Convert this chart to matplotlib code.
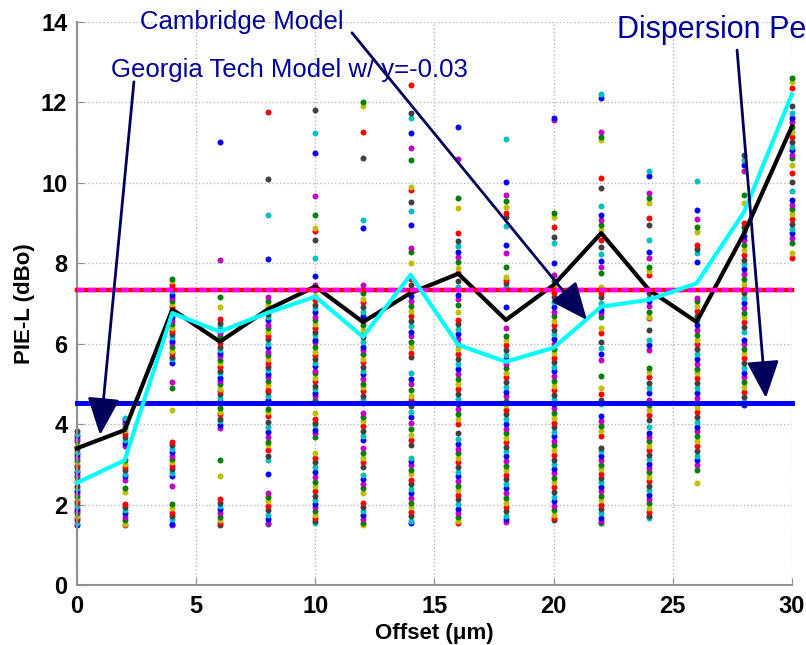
import matplotlib
matplotlib.use('Agg')
import matplotlib.pyplot as plt

plt.rcParams['font.family'] = ['Liberation Sans', 'DejaVu Sans']

offsets = [0, 2, 4, 6, 8, 10, 12, 14, 16, 18, 20, 22, 24, 26, 28, 30]

# measured PIE-L samples, one list per offset
pie_l = [
    [1.50, 1.53, 1.61, 1.66, 1.72, 1.79, 1.85, 1.90, 1.97, 2.03, 2.08, 2.16, 2.21, 2.29, 2.34,
     2.41, 2.47, 2.55, 2.60, 2.68, 2.73, 2.80, 2.86, 2.93, 2.99, 3.06, 3.12, 3.18, 3.25, 3.31,
     3.38, 3.44, 3.51, 3.57, 3.63, 3.70, 3.76, 3.82],
    [1.50, 1.51, 1.62, 1.70, 1.78, 1.86, 1.94, 2.01, 2.31, 2.40, 2.62, 2.70, 2.77, 2.85, 2.93,
     3.01, 3.10, 3.45, 3.53, 3.60, 3.68, 3.75, 3.86, 3.93, 4.02, 4.10, 4.16],
    [1.50, 1.52, 1.63, 1.72, 1.80, 1.91, 2.01, 2.45, 2.70, 2.79, 2.88, 2.97, 3.05, 3.13, 3.21,
     3.30, 3.38, 3.47, 3.55, 4.35, 4.90, 5.05, 5.52, 5.61, 5.67, 5.77, 5.83, 5.92, 6.01, 6.07,
     6.16, 6.25, 6.31, 6.40, 6.49, 6.56, 6.66, 6.74, 6.83, 6.90, 6.98, 7.07, 7.13, 7.22, 7.31,
     7.38, 7.47, 7.55, 7.61],
    [1.50, 1.53, 1.62, 1.70, 1.79, 1.88, 1.96, 2.05, 2.13, 2.70, 3.10, 3.91, 3.97, 4.08, 4.13,
     4.25, 4.31, 4.40, 4.52, 4.57, 4.66, 4.74, 4.83, 4.88, 5.01, 5.06, 5.15, 5.27, 5.33, 5.41,
     5.52, 5.59, 5.70, 5.76, 5.85, 5.93, 6.02, 6.09, 6.18, 6.27, 6.33, 6.44, 6.52, 6.61, 6.90,
     7.16, 8.08, 11.02],
    [1.52, 1.55, 1.63, 1.74, 1.86, 1.97, 2.08, 2.18, 2.29, 2.75, 3.10, 3.22, 3.35, 3.47, 3.56,
     3.69, 3.80, 3.93, 4.05, 4.21, 4.29, 4.38, 4.52, 4.61, 4.70, 4.79, 4.86, 4.97, 5.08, 5.16,
     5.24, 5.35, 5.43, 5.51, 5.63, 5.71, 5.80, 5.92, 6.00, 6.11, 6.19, 6.28, 6.40, 6.47, 6.58,
     6.66, 6.75, 6.86, 6.95, 7.06, 7.17, 8.10, 9.20, 10.10, 11.77],
    [1.53, 1.58, 1.66, 1.75, 1.84, 1.93, 2.02, 2.12, 2.21, 2.34, 2.45, 2.55, 2.68, 2.80, 2.94,
     3.05, 3.17, 3.28, 3.68, 3.77, 3.86, 3.98, 4.04, 4.12, 4.28, 4.60, 4.69, 4.77, 4.88, 4.96,
     5.07, 5.15, 5.26, 5.33, 5.45, 5.52, 5.63, 5.72, 5.80, 5.91, 6.03, 6.10, 6.21, 6.29, 6.40,
     6.49, 6.58, 6.67, 6.78, 6.88, 6.97, 7.08, 7.19, 7.33, 7.45, 7.68, 8.13, 8.58, 8.80, 8.87,
     9.20, 9.68, 10.75, 11.24, 11.82],
    [1.50, 1.55, 1.64, 1.73, 1.84, 1.95, 2.05, 2.30, 2.41, 2.52, 2.63, 2.74, 2.94, 3.06, 3.17,
     3.29, 3.40, 3.60, 3.71, 3.83, 3.95, 4.07, 4.18, 4.28, 4.52, 4.63, 4.71, 4.82, 4.93, 5.01,
     5.12, 5.24, 5.31, 5.43, 5.54, 5.62, 5.74, 5.85, 5.93, 6.04, 6.16, 6.23, 6.35, 6.47, 6.56,
     6.68, 6.80, 6.91, 7.03, 7.12, 7.26, 7.46, 8.88, 9.08, 10.62, 11.27, 11.90, 12.00],
    [1.54, 1.60, 1.71, 1.82, 1.93, 2.05, 2.16, 2.28, 2.39, 2.51, 2.62, 2.75, 2.86, 2.98, 3.09,
     3.16, 3.48, 3.60, 3.74, 3.88, 4.03, 4.18, 4.30, 4.44, 4.60, 4.71, 4.86, 5.00, 5.13, 5.27,
     5.67, 5.77, 5.92, 6.05, 6.18, 6.30, 6.43, 6.56, 6.68, 6.81, 6.93, 7.06, 7.18, 7.30, 7.45,
     7.60, 8.00, 8.28, 8.38, 8.95, 9.30, 9.53, 9.83, 9.90, 10.57, 10.87, 11.24, 11.60, 11.74,
     12.44],
    [1.54, 1.59, 1.68, 1.79, 1.90, 2.01, 2.13, 2.24, 2.36, 2.47, 2.58, 2.70, 2.81, 2.93, 3.05,
     3.16, 3.28, 3.39, 3.51, 3.62, 3.78, 4.00, 4.12, 4.26, 4.38, 4.50, 4.63, 4.75, 4.88, 5.00,
     5.13, 5.25, 5.37, 5.50, 5.62, 5.74, 5.87, 5.99, 6.11, 6.24, 6.36, 6.48, 6.60, 6.78, 6.96,
     7.10, 7.22, 7.41, 7.55, 7.75, 7.88, 8.02, 8.15, 8.28, 8.42, 8.55, 8.75, 9.38, 9.63, 10.60,
     11.40],
    [1.57, 1.63, 1.72, 1.83, 1.94, 2.05, 2.17, 2.28, 2.40, 2.51, 2.63, 2.74, 2.86, 2.97, 3.09,
     3.20, 3.32, 3.43, 3.55, 3.66, 3.78, 3.89, 4.01, 4.12, 4.24, 4.35, 4.47, 4.58, 4.70, 4.81,
     4.93, 5.04, 5.16, 5.27, 5.39, 5.50, 5.62, 5.73, 5.85, 5.96, 6.08, 6.20, 6.40, 6.90, 7.41,
     7.50, 7.58, 7.66, 7.90, 8.26, 8.46, 8.93, 9.15, 9.25, 9.40, 9.55, 9.70, 10.03, 11.10],
    [1.62, 1.66, 1.75, 1.86, 1.97, 2.09, 2.20, 2.32, 2.43, 2.55, 2.66, 2.78, 2.89, 3.01, 3.12,
     3.24, 3.35, 3.47, 3.58, 3.70, 3.81, 3.93, 4.04, 4.16, 4.27, 4.39, 4.50, 4.62, 4.73, 4.85,
     4.96, 5.08, 5.19, 5.31, 5.42, 5.54, 5.65, 5.77, 5.88, 6.00, 6.11, 6.23, 6.34, 6.46, 6.57,
     6.69, 6.80, 6.92, 7.03, 7.15, 7.26, 7.40, 7.55, 7.70, 8.00, 8.50, 8.66, 8.90, 9.16, 9.25,
     11.57, 11.60],
    [1.54, 1.58, 1.67, 1.78, 1.89, 2.00, 2.11, 2.22, 2.33, 2.44, 2.55, 2.66, 2.77, 2.88, 2.99,
     3.10, 3.21, 3.32, 3.40, 3.70, 3.82, 3.95, 4.08, 4.20, 4.50, 4.60, 4.75, 4.90, 5.20, 5.60,
     5.75, 5.90, 6.05, 6.27, 6.40, 6.67, 6.76, 6.84, 7.00, 7.15, 7.26, 7.41, 7.76, 7.90, 8.05,
     8.22, 8.40, 8.58, 8.83, 8.95, 9.07, 9.20, 9.43, 9.88, 10.12, 11.07, 11.14, 11.27, 12.10,
     12.20],
    [1.67, 1.72, 1.81, 1.92, 2.03, 2.14, 2.25, 2.36, 2.47, 2.58, 2.69, 2.80, 2.91, 3.02, 3.13,
     3.24, 3.35, 3.46, 3.57, 3.68, 3.79, 3.93, 4.10, 4.22, 4.35, 4.48, 4.60, 4.77, 4.90, 5.03,
     5.16, 5.29, 5.40, 5.85, 5.97, 6.10, 6.34, 6.64, 6.67, 6.80, 6.94, 7.07, 7.14, 7.26, 7.70,
     7.80, 7.90, 8.13, 8.28, 8.58, 8.96, 9.13, 9.50, 9.63, 9.75, 10.18, 10.30],
    [2.54, 2.86, 2.98, 3.10, 3.22, 3.34, 3.46, 3.58, 3.70, 3.82, 3.94, 4.06, 4.18, 4.30, 4.42,
     4.54, 4.66, 4.78, 4.90, 5.02, 5.14, 5.26, 5.38, 5.50, 5.62, 5.74, 5.86, 5.98, 6.10, 6.22,
     6.34, 6.46, 6.58, 6.70, 6.82, 6.94, 7.06, 7.14, 8.04, 8.26, 8.36, 8.46, 8.78, 8.90, 9.10,
     9.33, 10.05],
    [4.48, 4.56, 4.68, 4.80, 4.92, 5.04, 5.16, 5.28, 5.40, 5.52, 5.64, 5.76, 5.88, 6.00, 6.10,
     6.30, 6.42, 6.54, 6.66, 6.77, 6.89, 7.01, 7.13, 7.25, 7.37, 7.49, 7.61, 7.73, 7.85, 7.97,
     8.09, 8.21, 8.33, 8.45, 8.57, 8.69, 8.81, 8.90, 9.00, 9.50, 9.70, 10.30, 10.45, 10.57,
     10.70],
    [8.13, 8.25, 8.50, 8.62, 8.74, 8.86, 8.98, 9.10, 9.22, 9.34, 9.46, 9.58, 9.80, 10.02,
     10.25, 10.45, 10.62, 10.70, 10.82, 10.90, 11.02, 11.14, 11.26, 11.38, 11.50, 11.62, 11.74,
     11.90, 12.35, 12.50, 12.60],
]

georgia_tech = [3.40, 3.85, 6.85, 6.05, 6.85, 7.42, 6.54, 7.26, 7.74, 6.59, 7.46, 8.75, 7.34, 6.54, 8.75, 11.40]
cambridge = [2.54, 3.10, 6.76, 6.30, 6.77, 7.17, 6.17, 7.71, 5.97, 5.55, 5.90, 6.92, 7.09, 7.50, 9.28, 12.20]
upper_level = 7.33
penalty_level = 4.52

dot_colors = ['#0000ff', '#008000', '#ff0000', '#00bfbf', '#bf00bf', '#bfbf00', '#404040']

fig = plt.figure(figsize=(8.06, 6.45), dpi=100)
ax = fig.add_axes([0.0955, 0.093, 0.887, 0.873])

for k, (x, vals) in enumerate(zip(offsets, pie_l)):
    for i, v in enumerate(vals):
        ax.plot(x, v, 'o', ms=4.3, mew=0, color=dot_colors[(i * 3 + k * 2) % 7],
                zorder=2, clip_on=False)

ax.plot([0, 30], [penalty_level, penalty_level], color='#0000ff', lw=3.6, zorder=3, clip_on=False)
ax.plot(offsets, georgia_tech, color='black', lw=3.0, zorder=4, clip_on=False)
ax.plot([0, 30], [upper_level, upper_level], color='#ff0000', lw=3.2, zorder=5, clip_on=False)
ax.plot([0, 30], [upper_level, upper_level], color='#ff00ff', lw=3.2, dashes=(1.6, 0.9),
        zorder=6, clip_on=False)
ax.plot(offsets, cambridge, color='#00ffff', lw=3.0, zorder=7, clip_on=False)

ax.set_xlim(0, 30)
ax.set_ylim(0, 14)
ax.set_xticks(range(0, 31, 5))
ax.set_yticks(range(0, 15, 2))
ax.grid(True, ls=':', color='#b8b8b8', lw=1.0)
ax.set_axisbelow(True)
for s in ['top', 'right']:
    ax.spines[s].set_visible(False)
for s in ['left', 'bottom']:
    ax.spines[s].set_color('#909090')
    ax.spines[s].set_linewidth(1.5)
ax.tick_params(direction='in', length=5, color='#909090', labelsize=17, pad=7)
for lbl in ax.get_xticklabels() + ax.get_yticklabels():
    lbl.set_fontweight('bold')

ax.set_xlabel('Offset (μm)', fontsize=16, fontweight='bold', labelpad=4)
ax.set_ylabel('PIE-L (dBo)', fontsize=16, fontweight='bold', labelpad=4)

text_color = '#000099'
arrow_color = '#00005c'
arrow_style = '-|>,head_length=1.15,head_width=0.5'

ax.text(1.43, 12.81, 'Georgia Tech Model w/ y=-0.03', fontsize=18.5, color=text_color,
        ha='left', va='center')
ax.annotate('', xy=(0.97, 3.73), xytext=(2.39, 12.51),
            arrowprops=dict(arrowstyle=arrow_style, color=arrow_color, lw=2,
                            mutation_scale=20, shrinkA=0, shrinkB=0), zorder=10)

ax.text(2.64, 14.0, 'Cambridge Model', fontsize=18.5, color=text_color,
        ha='left', va='center')
ax.annotate('', xy=(21.4, 6.59), xytext=(11.54, 13.73),
            arrowprops=dict(arrowstyle=arrow_style, color=arrow_color, lw=2,
                            mutation_scale=20, shrinkA=0, shrinkB=0), zorder=10)

ax.text(22.66, 13.8, 'Dispersion Penalty', fontsize=22, color=text_color,
        ha='left', va='center')
ax.annotate('', xy=(28.91, 4.65), xytext=(27.7, 13.3),
            arrowprops=dict(arrowstyle=arrow_style, color=arrow_color, lw=2,
                            mutation_scale=20, shrinkA=0, shrinkB=0), zorder=10)

fig.savefig('out.png', dpi=100)
